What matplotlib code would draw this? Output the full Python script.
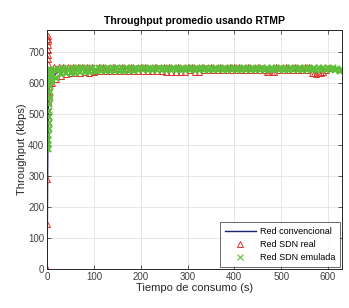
import numpy as np
import matplotlib.pyplot as plt
from matplotlib.lines import Line2D

plt.rcParams['font.family'] = ['Liberation Sans', 'DejaVu Sans']

# --- data (kbps vs time in s) ---
t_conv_ini = [0, 0.5, 1, 1.5, 2, 2.5, 3, 4, 5, 6, 7, 8, 9]
conv_ini = [0, 130, 260, 390, 420, 500, 560, 600, 620, 610, 625, 615, 630]
t_conv = list(range(10, 631, 10))
conv = [615, 630, 640, 638, 642, 640, 643, 641, 644, 642,
        645, 643, 644, 646, 643, 645, 646, 644, 645, 646,
        644, 646, 645, 647, 645, 646, 644, 646, 645, 647,
        646, 645, 647, 646, 645, 647, 646, 645, 647, 646,
        645, 647, 646, 645, 647, 646, 645, 647, 646, 645,
        647, 646, 645, 647, 646, 645, 646, 644, 645, 643,
        644, 642, 641]

t_real_ini = [0, 0.2, 0.4, 0.5, 0.6, 0.7, 0.8, 0.9, 1.0, 1.1, 1.2, 1.3, 1.4, 1.5,
              1.6, 1.8, 2, 2.5, 3, 3.5, 4, 5, 6, 7, 8, 9]
real_ini = [0, 145, 290, 600, 615, 630, 645, 660, 675, 690, 705, 720, 735, 750,
            740, 560, 540, 580, 620, 560, 600, 640, 600, 630, 610, 640]
t_real = list(range(10, 601, 5))
real = [598, 650, 612, 652, 622, 651, 628, 650, 630, 652, 631, 651, 630, 652, 634, 650, 630, 651, 634,
        636, 649, 636, 649, 637, 648, 636, 649, 637, 648, 637, 649, 638, 648, 638, 649, 638, 648, 639, 649,
        639, 649, 638, 648, 639, 649, 639, 648, 639, 649, 634, 649, 634, 648, 634, 649, 635, 648, 634, 649,
        640, 649, 634, 648, 634, 649, 640, 648, 640, 649, 640, 648, 640, 649, 640, 648, 640, 649, 640, 649,
        640, 649, 640, 648, 640, 649, 640, 648, 640, 649, 640, 648, 640, 634, 634, 635, 634, 649, 640, 648,
        640, 649, 640, 648, 640, 649, 640, 648, 640, 649, 640, 649, 630, 632, 629, 631, 630, 633, 640, 648]

t_emu_ini = [1.5, 2, 2.4, 2.8, 3.2, 3.6, 4, 4.4, 4.8, 5.2, 5.6, 6, 6.4, 6.8, 7.2, 7.6, 8, 8.5, 9]
emu_ini = [385, 400, 415, 430, 450, 470, 490, 510, 530, 550, 570, 590, 610, 630, 640, 625, 605, 640, 612]
t_emu = list(range(10, 631, 5))
emu = [610, 640, 615, 645, 628, 646, 630, 645, 631, 647, 632, 646, 633, 647, 634, 646, 634, 647, 636,
       637, 647, 636, 647, 638, 646, 637, 647, 638, 647, 638, 647, 639, 647, 638, 648, 639, 647, 640, 648,
       640, 647, 640, 648, 640, 647, 641, 648, 640, 647, 641, 648, 640, 648, 641, 647, 640, 648, 641, 647,
       641, 648, 640, 647, 641, 648, 641, 647, 640, 648, 641, 647, 641, 648, 640, 647, 641, 648, 641, 647,
       641, 648, 640, 647, 641, 648, 641, 647, 640, 648, 641, 647, 641, 648, 640, 647, 641, 648, 641, 647,
       641, 648, 640, 647, 641, 648, 641, 647, 640, 648, 641, 647, 641, 648, 640, 647, 641, 647, 640, 646,
       643, 646, 641, 644, 638, 641]

blue = '#1c2270'
red = '#e0302a'
green = '#5fbf3a'

fig = plt.figure(figsize=(3.49, 3.08), dpi=100)
ax = fig.add_axes([0.135, 0.127, 0.845, 0.776])

ax.plot(t_conv_ini + t_conv, conv_ini + conv, color=blue, lw=1.0)
ax.plot(t_real_ini + t_real, real_ini + real, ls='none', marker='^', ms=4.5, mfc='none',
        mec=red, mew=0.7)
ax.plot(t_emu_ini + t_emu, emu_ini + emu, ls='none', marker='x', ms=5,
        mec=green, mew=1.6)

ax.set_xlim(0, 630)
ax.set_ylim(0, 770)
ax.set_xticks(range(0, 601, 100))
ax.set_yticks(range(0, 701, 100))
ax.grid(True, color='#e3e3e3', lw=0.6)
ax.set_axisbelow(True)
ax.tick_params(direction='in', top=True, right=True, labelsize=7, colors='#404040',
               length=3, width=0.6, pad=2)
for s in ax.spines.values():
    s.set_color('#262626')
    s.set_linewidth(0.7)

ax.set_title('Throughput promedio usando RTMP', fontsize=7.5, fontweight='bold', pad=4)
ax.set_xlabel('Tiempo de consumo (s)', fontsize=8, labelpad=1, color='#262626')
ax.set_ylabel('Throughput (kbps)', fontsize=8, labelpad=1, color='#262626')

handles = [Line2D([], [], color=blue, lw=1.0),
           Line2D([], [], ls='none', marker='^', ms=5, mfc='none', mec=red, mew=0.7),
           Line2D([], [], ls='none', marker='x', ms=4, mec=green, mew=0.8)]
labels = ['Red convencional', 'Red SDN real', 'Red SDN emulada']
leg = ax.legend(handles, labels, loc='lower right', fontsize=6.5, frameon=True, fancybox=False,
                handlelength=3.5, borderpad=0.5, labelspacing=0.45, handletextpad=0.4,
                borderaxespad=0.25)
leg.get_frame().set_edgecolor('#262626')
leg.get_frame().set_linewidth(0.6)

fig.savefig('out.png', dpi=100)
